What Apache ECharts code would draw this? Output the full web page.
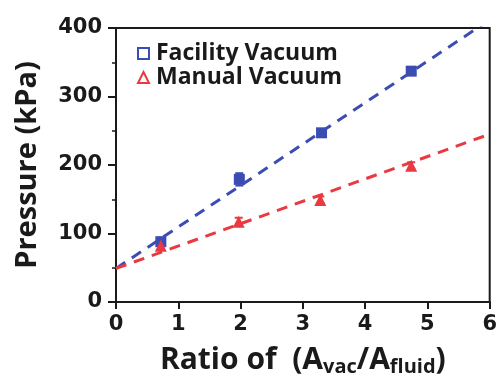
<!DOCTYPE html>
<html><head><meta charset="utf-8">
<script src="https://cdn.jsdelivr.net/npm/echarts@6/dist/echarts.min.js"></script>
<style>html,body{margin:0;padding:0;background:#fff}#c{width:500px;height:382px}</style>
</head><body><div id="c"></div>
<script>
const seriesNames = ['Facility Vacuum', 'Manual Vacuum'];
const facilityX = [0.72, 1.98, 3.30, 4.74];
const facilityY = [88, 179, 247, 337];
const facilityErr = [6, 9, 5, 4];
const manualX = [0.72, 1.97, 3.28, 4.74];
const manualY = [82, 117, 149, 199];
const manualErr = [5, 6, 5, 5];
const fitX = [0, 6];
const facilityFitY = [49, 412];
const manualFitY = [49, 245];
const xTicks = [0, 1, 2, 3, 4, 5, 6];
const yTicks = [0, 100, 200, 300, 400];

const BLUE = '#3b4db3', RED = '#e83a40';
const pts = (xs, ys) => xs.map((x, i) => [x, ys[i]]);
function errSeries(xs, ys, es, color) {
  return {
    type: 'custom', silent: true, z: 4,
    data: xs.map((x, i) => [x, ys[i] - es[i], ys[i] + es[i]]),
    renderItem(params, api) {
      const lo = api.coord([api.value(0), api.value(1)]);
      const hi = api.coord([api.value(0), api.value(2)]);
      const w = 4;
      return { type: 'group', children: [
        { type: 'line', shape: { x1: lo[0], y1: lo[1], x2: hi[0], y2: hi[1] }, style: { stroke: color, lineWidth: 2 } },
        { type: 'line', shape: { x1: lo[0]-w, y1: lo[1], x2: lo[0]+w, y2: lo[1] }, style: { stroke: color, lineWidth: 2 } },
        { type: 'line', shape: { x1: hi[0]-w, y1: hi[1], x2: hi[0]+w, y2: hi[1] }, style: { stroke: color, lineWidth: 2 } }
      ]};
    }
  };
}
const chart = echarts.init(document.getElementById('c'), null, { renderer: 'canvas' });
const tickFont = { fontFamily: 'DejaVu Sans', fontWeight: 'bold', fontSize: 21, color: '#1a1a1a' };
chart.setOption({
  animation: false,
  backgroundColor: '#fff',
  grid: { left: 116, right: 8, top: 28, bottom: 75, show: true, borderColor: '#1a1a1a', borderWidth: 2 },
  legend: {
    orient: 'vertical', left: 137, top: 42, padding: 0, itemGap: 1, itemWidth: 11, itemHeight: 11,
    textStyle: { fontFamily: 'Open Sans', fontSize: 23, fontWeight: 'bold', color: '#1a1a1a', padding: [0, 0, 0, 2] },
    data: [
      { name: seriesNames[0], icon: 'rect', itemStyle: { color: '#fff', borderColor: BLUE, borderWidth: 2 } },
      { name: seriesNames[1], icon: 'triangle', itemStyle: { color: '#fff', borderColor: RED, borderWidth: 2 } }
    ]
  },
  xAxis: {
    type: 'value', min: 0, max: 6, interval: 1,
    axisLine: { lineStyle: { color: '#1a1a1a', width: 2 } },
    axisTick: { show: true, length: 7, lineStyle: { width: 2 } },
    splitLine: { show: false },
    axisLabel: Object.assign({ margin: 12, formatter: v => xTicks.includes(v) ? String(v) : '' }, tickFont),
    name: '{n|Ratio of  (A}{s|vac}{n|/A}{s|fluid}{n|)}',
    nameLocation: 'middle', nameGap: 41,
    nameTextStyle: { rich: {
      n: { fontFamily: 'Open Sans', fontWeight: 'bold', fontSize: 30, color: '#1a1a1a' },
      s: { fontFamily: 'Open Sans', fontWeight: 'bold', fontSize: 20, color: '#1a1a1a', verticalAlign: 'bottom', padding: [14, 0, 0, 0] }
    } }
  },
  yAxis: {
    type: 'value', min: 0, max: 400, interval: 100,
    axisLine: { show: true, lineStyle: { color: '#1a1a1a', width: 2 } },
    axisTick: { show: true, length: 8, lineStyle: { width: 2 } },
    minorTick: { show: true, splitNumber: 2, length: 4, lineStyle: { color: '#1a1a1a', width: 1.5 } },
    splitLine: { show: false },
    axisLabel: Object.assign({ margin: 14, formatter: v => yTicks.includes(v) ? String(v) : '' }, tickFont),
    name: 'Pressure (kPa)', nameLocation: 'middle', nameGap: 74,
    nameTextStyle: { fontFamily: 'Open Sans', fontWeight: 'bold', fontSize: 29, color: '#1a1a1a' }
  },
  series: [
    { name: 'fitF', type: 'line', data: pts(fitX, facilityFitY), symbol: 'none', clip: true, silent: true,
      lineStyle: { color: BLUE, width: 3, type: [11, 8] }, z: 2 },
    { name: 'fitM', type: 'line', data: pts(fitX, manualFitY), symbol: 'none', clip: true, silent: true,
      lineStyle: { color: RED, width: 3, type: [11, 8] }, z: 2 },
    errSeries(facilityX, facilityY, facilityErr, BLUE),
    errSeries(manualX, manualY, manualErr, RED),
    { name: seriesNames[0], type: 'scatter', data: pts(facilityX, facilityY), symbol: 'rect', symbolSize: 11,
      itemStyle: { color: BLUE, opacity: 1 }, z: 5 },
    { name: seriesNames[1], type: 'scatter', data: pts(manualX, manualY), symbol: 'triangle', symbolSize: 12,
      itemStyle: { color: RED, opacity: 1 }, z: 5 }
  ]
});
</script></body></html>
